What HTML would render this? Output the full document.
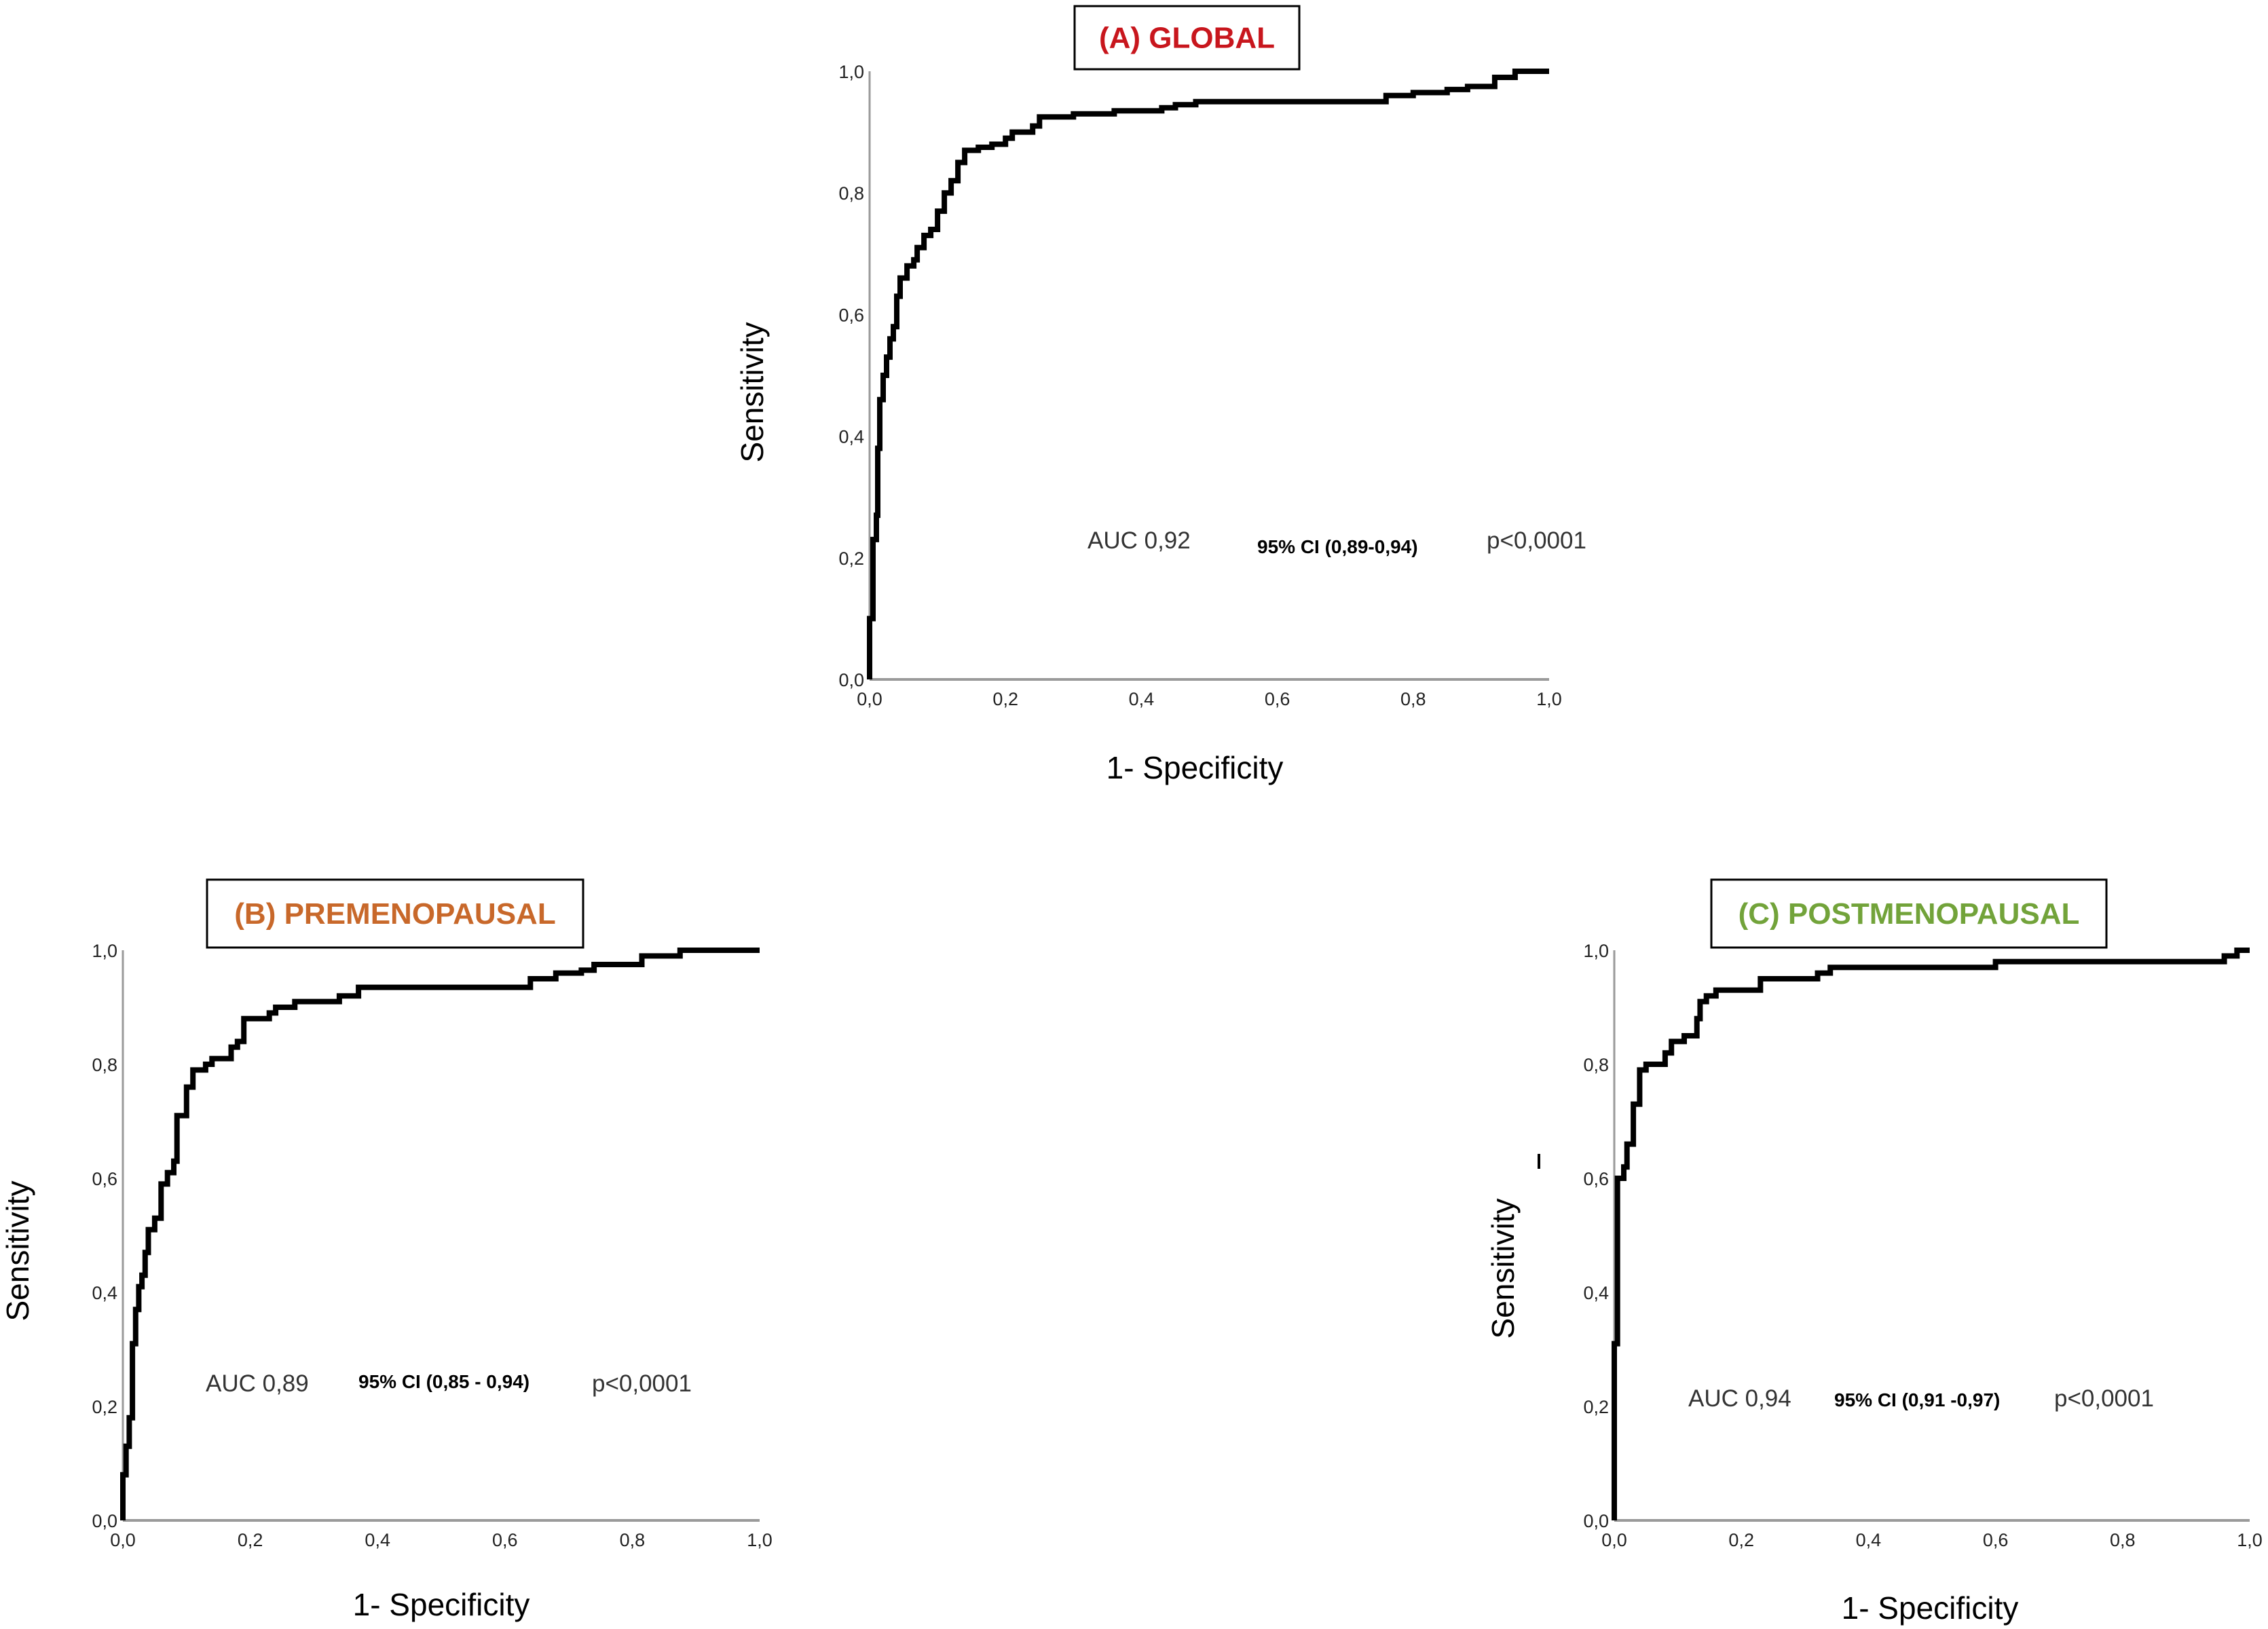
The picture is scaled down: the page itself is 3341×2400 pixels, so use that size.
<!DOCTYPE html>
<html><head><meta charset="utf-8"><style>
html,body{margin:0;padding:0;background:#fff;}
svg{display:block;}
.tick{font-family:"Liberation Sans",sans-serif;font-size:27px;fill:#222;}
.ttl{font-family:"Liberation Sans",sans-serif;font-size:46px;fill:#000;}
.auc{font-family:"Liberation Sans",sans-serif;font-size:35px;fill:#333;}
.ci{font-family:"Liberation Sans",sans-serif;font-size:28px;font-weight:bold;fill:#000;}
.head{font-family:"Liberation Sans",sans-serif;font-size:44px;font-weight:bold;}
</style></head><body>
<svg id="chart" width="3341" height="2400" viewBox="0 0 3341 2400" xmlns="http://www.w3.org/2000/svg"></svg>
<script>
const ticks = [0, 0.2, 0.4, 0.6, 0.8, 1.0];
const tickLabels = ["0,0","0,2","0,4","0,6","0,8","1,0"];
const fprA = [0,0,0.005,0.005,0.01,0.012,0.015,0.02,0.025,0.03,0.035,0.04,0.045,0.055,0.065,0.07,0.08,0.09,0.1,0.11,0.12,0.13,0.14,0.16,0.18,0.2,0.21,0.24,0.25,0.3,0.36,0.43,0.45,0.48,0.72,0.76,0.8,0.85,0.88,0.92,0.95,1];
const tprA = [0,0.1,0.15,0.23,0.27,0.38,0.46,0.5,0.53,0.56,0.58,0.63,0.66,0.68,0.69,0.71,0.73,0.74,0.77,0.8,0.82,0.85,0.87,0.875,0.88,0.89,0.9,0.91,0.925,0.93,0.935,0.94,0.945,0.95,0.95,0.96,0.965,0.97,0.975,0.99,1,1];
const fprB = [0,0,0.005,0.01,0.015,0.02,0.025,0.03,0.035,0.04,0.05,0.06,0.06,0.07,0.08,0.085,0.1,0.1,0.11,0.13,0.14,0.17,0.18,0.19,0.19,0.23,0.24,0.27,0.34,0.37,0.64,0.64,0.68,0.72,0.74,0.81,0.815,0.87,0.875,1];
const tprB = [0,0.08,0.13,0.18,0.31,0.37,0.41,0.43,0.47,0.51,0.53,0.55,0.59,0.61,0.63,0.71,0.73,0.76,0.79,0.8,0.81,0.83,0.84,0.86,0.88,0.89,0.9,0.91,0.92,0.935,0.935,0.95,0.96,0.965,0.975,0.975,0.99,0.99,1,1];
const fprC = [0,0,0.005,0.015,0.02,0.03,0.04,0.04,0.05,0.08,0.08,0.09,0.09,0.11,0.13,0.13,0.135,0.145,0.16,0.23,0.23,0.31,0.32,0.34,0.6,0.6,0.95,0.96,0.98,1];
const tprC = [0,0.31,0.6,0.62,0.66,0.73,0.76,0.79,0.8,0.8,0.82,0.83,0.84,0.85,0.85,0.88,0.91,0.92,0.93,0.93,0.95,0.95,0.96,0.97,0.97,0.98,0.98,0.99,1,1];

const NS="http://www.w3.org/2000/svg";
const svg=document.getElementById('chart');
function mk(tag,attrs,parent,text){const e=document.createElementNS(NS,tag);for(const k in attrs)e.setAttribute(k,attrs[k]);if(text!==undefined)e.textContent=text;(parent||svg).appendChild(e);return e;}

function panel(cfg){
  const g=mk('g',{});
  
  
  const sx=v=>cfg.x0+(cfg.x1-cfg.x0)*v;
  const sy=v=>cfg.y0-(cfg.y0-cfg.y1)*v;
  const box=mk('rect',{x:cfg.bx,y:cfg.by,width:cfg.bw,height:cfg.bh,fill:'#fff',stroke:'#000','stroke-width':3},g);
  
  
  const t=mk('text',{x:cfg.bx+cfg.bw/2,y:cfg.by+cfg.bh/2+15,'text-anchor':'middle',class:'head',fill:cfg.color},g,cfg.title);
  
  
  const ya=mk('line',{x1:cfg.x0,y1:cfg.y1,x2:cfg.x0,y2:cfg.y0,stroke:'#9a9a9a','stroke-width':3},g);
  
  
  const xa=mk('line',{x1:cfg.x0,y1:cfg.y0,x2:cfg.x1,y2:cfg.y0,stroke:'#9a9a9a','stroke-width':4},g);
  
  
  ticks.forEach((v,i)=>{
    const yl=mk('text',{x:cfg.x0-8,y:sy(v)+10,'text-anchor':'end',class:'tick'},g,tickLabels[i]);
    
    
    const xl=mk('text',{x:sx(v),y:cfg.y0+38,'text-anchor':'middle',class:'tick'},g,tickLabels[i]);
    
    
  });
  let d='M'+sx(cfg.fpr[0]).toFixed(1)+','+sy(cfg.tpr[0]).toFixed(1);
  for(let i=1;i<cfg.fpr.length;i++){
    d+='H'+sx(cfg.fpr[i]).toFixed(1)+'V'+sy(cfg.tpr[i]).toFixed(1);
  }
  const p=mk('path',{d:d,fill:'none',stroke:'#000','stroke-width':8,'stroke-linejoin':'miter'},g);
  
  
  const yt=mk('text',{x:cfg.sensX,y:cfg.sensY,'text-anchor':'middle',class:'ttl',transform:`rotate(-90 ${cfg.sensX} ${cfg.sensY})`},g,'Sensitivity');
  
  
  const xt=mk('text',{x:cfg.specX,y:cfg.specY,'text-anchor':'middle',class:'ttl'},g,'1- Specificity');
  
  
  const a=mk('text',{x:cfg.aucX,y:cfg.statY,class:'auc'},g,cfg.auc);
  
  
  const c=mk('text',{x:cfg.ciX,y:cfg.ciY,class:'ci'},g,cfg.ci);
  
  
  const pv=mk('text',{x:cfg.pX,y:cfg.statY,class:'auc'},g,'p<0,0001');
  
  
}

panel({name:'panel-global',x0:1281,x1:2282,y0:1001,y1:105,bx:1583,by:9,bw:331,bh:93,title:'(A) GLOBAL',color:'#c8161d',
  fpr:fprA,tpr:tprA,sensX:1124,sensY:578,specX:1760,specY:1147,aucX:1602,ciX:1852,ciY:815,statY:808,auc:'AUC  0,92',ci:'95% CI (0,89-0,94)',pX:2190});
panel({name:'panel-premenopausal',x0:181,x1:1119,y0:2240,y1:1400,bx:305,by:1296,bw:554,bh:100,title:'(B) PREMENOPAUSAL',color:'#c8682a',
  fpr:fprB,tpr:tprB,sensX:42,sensY:1843,specX:650,specY:2380,aucX:303,ciX:528,ciY:2045,statY:2050,auc:'AUC 0,89',ci:'95% CI (0,85 - 0,94)',pX:872});
panel({name:'panel-postmenopausal',x0:2378,x1:3314,y0:2240,y1:1400,bx:2521,by:1296,bw:582,bh:100,title:'(C) POSTMENOPAUSAL',color:'#72a33a',
  fpr:fprC,tpr:tprC,sensX:2230,sensY:1869,specX:2843,specY:2385,aucX:2487,ciX:2702,ciY:2072,statY:2072,auc:'AUC 0,94',ci:'95% CI (0,91 -0,97)',pX:3026});
const m=mk('line',{x1:2267,y1:1700,x2:2267,y2:1722,stroke:'#000','stroke-width':4});


</script>
</body></html>
